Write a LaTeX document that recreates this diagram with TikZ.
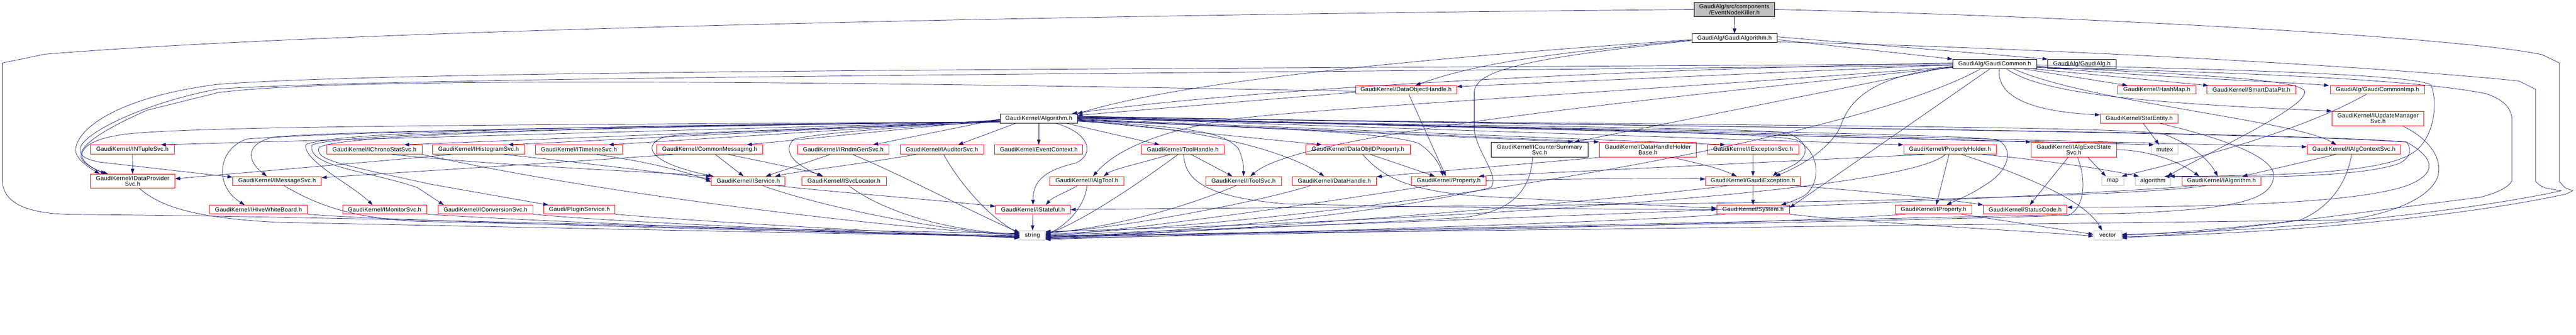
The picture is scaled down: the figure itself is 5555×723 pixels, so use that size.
\documentclass[tikz,border=0pt]{standalone}
\usepackage{fontspec}
\setmainfont[LetterSpace=2.5]{Liberation Sans}
\usetikzlibrary{arrows.meta}
\definecolor{edgec}{HTML}{191970}
\definecolor{gbord}{HTML}{BFBFBF}
\begin{document}
\begin{tikzpicture}[x=1pt,y=-1pt,
  base/.style={rectangle, inner sep=0pt, align=center, line width=0.9pt, font=\fontsize{12.6}{11.7}\selectfont},
  rbox/.style={base, draw=red},
  kbox/.style={base, draw=black},
  gbox/.style={base, draw=gbord},
  r1/.style={rbox, minimum height=19pt},
  lnk/.style={draw=edgec, line width=0.8pt, -{Triangle[length=11pt,width=7.5pt]}},
]
\useasboundingbox (0,0) rectangle (5555,723);
% ---------------- nodes ----------------
\node[kbox, fill=gbord, minimum width=174pt, minimum height=31pt] (enk) at (3740,20.5) {GaudiAlg/src/components\\/EventNodeKiller.h};
\node[kbox, minimum width=183pt, minimum height=19pt] (galgo) at (3740.5,82.5) {GaudiAlg/GaudiAlgorithm.h};
\node[kbox, minimum width=181pt, minimum height=20pt] (gcommon) at (4301.5,138) {GaudiAlg/GaudiCommon.h};
\node[kbox, minimum width=147pt, minimum height=20pt] (galg) at (4489.5,138) {GaudiAlg/GaudiAlg.h};
\node[rbox, minimum width=218pt, minimum height=18pt] (dohandle) at (3032,194) {GaudiKernel/DataObjectHandle.h};
\node[rbox, minimum width=168pt, minimum height=18pt] (hashmap) at (4651,194) {GaudiKernel/HashMap.h};
\node[rbox, minimum width=192pt, minimum height=18pt] (smartptr) at (4855,194) {GaudiKernel/SmartDataPtr.h};
\node[rbox, minimum width=204pt, minimum height=18pt] (gcimp) at (5127,194) {GaudiAlg/GaudiCommonImp.h};
\node[kbox, minimum width=166pt, minimum height=20pt] (algoh) at (2240,256) {GaudiKernel/Algorithm.h};
\node[rbox, minimum width=168pt, minimum height=20pt] (statentity) at (4613,256) {GaudiKernel/StatEntity.h};
\node[rbox, minimum width=198pt, minimum height=31pt] (iupdmgr) at (5128,255.5) {GaudiKernel/IUpdateManager\\Svc.h};
% row 5
\node[rbox, minimum width=181pt, minimum height=20pt] (intuple) at (285.5,323) {GaudiKernel/INTupleSvc.h};
\node[rbox, minimum width=205pt, minimum height=20pt] (ichrono) at (807.5,323) {GaudiKernel/IChronoStatSvc.h};
\node[rbox, minimum width=198pt, minimum height=20pt] (ihisto) at (1032,323) {GaudiKernel/IHistogramSvc.h};
\node[rbox, minimum width=187pt, minimum height=20pt] (itimeline) at (1248.5,323) {GaudiKernel/ITimelineSvc.h};
\node[rbox, minimum width=229pt, minimum height=20pt] (commsg) at (1530.5,323) {GaudiKernel/CommonMessaging.h};
\node[rbox, minimum width=197pt, minimum height=20pt] (irndm) at (1818.5,323) {GaudiKernel/IRndmGenSvc.h};
\node[rbox, minimum width=180pt, minimum height=20pt] (iauditor) at (2031,323) {GaudiKernel/IAuditorSvc.h};
\node[rbox, minimum width=190pt, minimum height=20pt] (evctx) at (2240,323) {GaudiKernel/EventContext.h};
\node[rbox, minimum width=179pt, minimum height=20pt] (toolhandle) at (2550.5,323) {GaudiKernel/ToolHandle.h};
\node[rbox, minimum width=225pt, minimum height=20pt] (doidprop) at (2928.5,323) {GaudiKernel/DataObjIDProperty.h};
\node[kbox, minimum width=208pt, minimum height=32pt] (icounter) at (3320,323) {GaudiKernel/ICounterSummary\\Svc.h};
\node[rbox, minimum width=209pt, minimum height=32pt] (dhhb) at (3553.5,323) {GaudiKernel/DataHandleHolder\\Base.h};
\node[rbox, minimum width=197pt, minimum height=20pt] (iexcept) at (3780.5,323) {GaudiKernel/IExceptionSvc.h};
\node[rbox, minimum width=200pt, minimum height=20pt] (propholder) at (4205,323) {GaudiKernel/PropertyHolder.h};
\node[rbox, minimum width=184pt, minimum height=32pt] (iexecstate) at (4472,323) {GaudiKernel/IAlgExecState\\Svc.h};
\node[gbox, minimum width=58pt, minimum height=20pt] (mutex) at (4668,323) {mutex};
\node[rbox, minimum width=202pt, minimum height=20pt] (ictx) at (5076,323) {GaudiKernel/IAlgContextSvc.h};
% row 6
\node[rbox, minimum width=182pt, minimum height=30pt] (idataprov) at (286,391) {GaudiKernel/IDataProvider\\Svc.h};
\node[r1, minimum width=191pt] (imsg) at (597.5,390.5) {GaudiKernel/IMessageSvc.h};
\node[r1, minimum width=159pt] (iservice) at (1613.5,390.5) {GaudiKernel/IService.h};
\node[r1, minimum width=182pt] (isvcloc) at (1820,390.5) {GaudiKernel/ISvcLocator.h};
\node[r1, minimum width=160pt] (ialgtool) at (2344,390.5) {GaudiKernel/IAlgTool.h};
\node[r1, minimum width=163pt] (itoolsvc) at (2681.5,390.5) {GaudiKernel/IToolSvc.h};
\node[r1, minimum width=181pt] (dhandle) at (2877.5,390.5) {GaudiKernel/DataHandle.h};
\node[r1, minimum width=162pt] (property) at (3124,390.5) {GaudiKernel/Property.h};
\node[r1, minimum width=204pt] (gexcept) at (3780,390.5) {GaudiKernel/GaudiException.h};
\node[gbox, minimum width=48pt, minimum height=19pt] (map) at (4556,390.5) {map};
\node[gbox, minimum width=77pt, minimum height=19pt] (algostd) at (4642.5,390.5) {algorithm};
\node[r1, minimum width=171pt] (ialgorithm) at (4790.5,390.5) {GaudiKernel/IAlgorithm.h};
% row 7
\node[r1, minimum width=211pt] (ihive) at (557.5,452.5) {GaudiKernel/IHiveWhiteBoard.h};
\node[r1, minimum width=181pt] (imonitor) at (829.5,452.5) {GaudiKernel/IMonitorSvc.h};
\node[r1, minimum width=204pt] (iconv) at (1047,452.5) {GaudiKernel/IConversionSvc.h};
\node[r1, minimum width=153pt] (plugin) at (1249.5,452.5) {Gaudi/PluginService.h};
\node[r1, minimum width=161pt] (istateful) at (2227.5,452.5) {GaudiKernel/IStateful.h};
\node[r1, minimum width=157pt] (system) at (3780.5,452.5) {GaudiKernel/System.h};
\node[r1, minimum width=165pt] (iproperty) at (4169.5,452.5) {GaudiKernel/IProperty.h};
\node[r1, minimum width=180pt] (statuscode) at (4367,452.5) {GaudiKernel/StatusCode.h};
% row 8
\node[gbox, minimum width=55pt, minimum height=20pt] (string) at (2226.5,508) {string};
\node[gbox, minimum width=60pt, minimum height=20pt] (vector) at (4545,508) {vector};

% ---------------- edges ----------------
% EventNodeKiller
\draw[lnk] (enk) -- (galgo);
\draw[lnk] (enk.west) .. controls (2500,30) and (800,60) .. (97,117) -- (5,136) -- (5,392) .. controls (8,430) and (40,462) .. (160,463) .. controls (800,468) and (1600,495) .. ([yshift=4pt]string.west);
\draw[lnk] (enk.east) .. controls (4500,35) and (5300,80) .. (5482,118) -- (5519,136) -- (5519,392) -- (5531,405) -- (5548,412) -- (5533,419) .. controls (5300,470) and (4900,505) .. ([yshift=-3pt]vector.east);
% GaudiAlgorithm
\draw[lnk] ([yshift=-3pt]galgo.east) -- (gcommon.north west);
\draw[lnk] ([yshift=3pt]galgo.east) -- (galg.north west);
\draw[lnk] ([yshift=-8pt]galgo.east) .. controls (4300,100) and (5100,140) .. (5432,175) -- (5468,193) -- (5468,392) -- (5478,401) -- (5490,406) -- (5523,412) .. controls (5300,460) and (4900,500) .. ([yshift=2pt]vector.east);
\draw[lnk] ([yshift=-3pt]galgo.west) .. controls (3300,110) and (2600,160) .. (algoh.north east);
\draw[lnk] ([yshift=-4pt]galgo.west) .. controls (3400,110) and (3200,130) .. ([xshift=20pt]dohandle.north);
\draw[lnk] ([yshift=-5pt]galgo.west) .. controls (3300,125) and (3180,150) .. (3179,200) -- (3179,280) .. controls (3185,330) and (3235,380) .. (3215,405) .. controls (3050,445) and (2700,495) .. ([yshift=-4pt]string.east);
% DataObjectHandle
\draw[lnk] ([yshift=-5pt]dohandle.west) -- ([yshift=7pt]algoh.east);
\draw[lnk] ([xshift=6pt]dohandle.south) -- ([xshift=-6pt]property.north);
\draw[lnk] ([yshift=-3pt]dohandle.west) .. controls (1500,170) and (700,170) .. (470,200) -- (317,238) .. controls (200,290) and (170,320) .. (175,340) .. controls (180,355) and (210,368) .. ([xshift=-58pt]idataprov.north);
% GaudiCommon
\draw[lnk] (gcommon.west) .. controls (2500,150) and (900,150) .. (470,182) .. controls (250,210) and (163,280) .. (163,325) .. controls (165,345) and (190,360) .. ([xshift=-71pt]idataprov.north);
\draw[lnk] ([yshift=-3pt]gcommon.west) .. controls (2500,160) and (900,165) .. (470,192) .. controls (300,225) and (178,290) .. (173,320) .. controls (172,335) and (180,343) .. (215,350) -- ([yshift=8pt]imsg.west);
\draw[lnk] ([yshift=2pt]gcommon.west) .. controls (3500,150) and (2700,190) .. ([xshift=-12pt]algoh.north east);
\draw[lnk] ([yshift=-2pt]gcommon.west) -- ([yshift=7pt]dohandle.east);
\draw[lnk] ([yshift=-5pt]gcommon.west) -- ([xshift=75pt]icounter.north);
\draw[lnk] ([yshift=-6pt]gcommon.west) .. controls (3500,200) and (2700,240) .. (2620,264) .. controls (2480,290) and (2400,330) .. ([xshift=13pt]ialgtool.north);
\draw[lnk] ([yshift=-7pt]gcommon.west) .. controls (3500,220) and (2800,290) .. ([xshift=15pt]itoolsvc.north);
\draw[lnk] ([yshift=-8pt]gcommon.west) .. controls (4050,160) and (3990,210) .. (3970,270) .. controls (3950,320) and (3880,360) .. ([xshift=48pt]gexcept.north);
\draw[lnk] ([xshift=-10pt]gcommon.south) -- ([yshift=4pt]system.east);
\draw[lnk] ([xshift=-30pt]gcommon.south) .. controls (4000,300) and (3000,470) .. ([yshift=2pt]string.east);
\draw[lnk] ([xshift=10pt]gcommon.south) .. controls (4305,200) and (4360,240) .. ([yshift=8pt]statentity.west);
\draw[lnk] ([xshift=60pt]gcommon.south) -- ([xshift=-63pt]hashmap.north);
\draw[lnk] ([xshift=80pt]gcommon.south) -- ([xshift=-93pt]smartptr.north);
\draw[lnk] ([xshift=25pt]gcommon.south) .. controls (4400,200) and (4600,222) .. (iupdmgr.north west);
\draw[lnk] ([xshift=40pt]gcommon.south) .. controls (4500,220) and (4950,260) .. ([xshift=-38pt]ictx.north);
\draw[lnk] ([yshift=-4pt]gcommon.east) .. controls (4500,160) and (4900,175) .. ([xshift=-2pt]gcimp.north west);
\draw[lnk] ([yshift=-6pt]gcommon.east) .. controls (4700,160) and (4960,170) .. (4970,197) .. controls (4975,230) and (4800,310) .. ([xshift=-8pt]algostd.north east);
\draw[lnk] ([yshift=-8pt]gcommon.east) .. controls (4800,155) and (5200,170) .. (5360,202) .. controls (5400,215) and (5417,235) .. (5417,260) -- (5417,390) .. controls (5410,405) and (5380,418) .. (5348,426) .. controls (5000,470) and (4800,500) .. ([yshift=-6pt]vector.east);
\draw[lnk] ([yshift=-2pt]gcommon.east) .. controls (4800,150) and (5200,160) .. (5242,183) .. controls (5258,220) and (5250,300) .. (5203,330) .. controls (5150,365) and (5000,380) .. ([xshift=-3pt]algostd.north east);
\draw[lnk] ([xshift=-24pt]gcimp.south) .. controls (4950,290) and (4700,350) .. ([xshift=-5pt]map.north east);
% Algorithm.h -> left row 5
\draw[lnk] ([yshift=-6pt]algoh.west) -- ([xshift=61pt]intuple.north);
\draw[lnk] ([yshift=-5pt]algoh.west) -- ([xshift=64pt]ichrono.north);
\draw[lnk] ([yshift=-4pt]algoh.west) -- ([xshift=64pt]ihisto.north);
\draw[lnk] ([yshift=-3pt]algoh.west) -- ([xshift=64pt]itimeline.north);
\draw[lnk] ([yshift=-2pt]algoh.west) -- ([xshift=80pt]commsg.north);
\draw[lnk] ([yshift=-1pt]algoh.west) -- ([xshift=64pt]irndm.north);
\draw[lnk] ([xshift=-50pt]algoh.south) -- ([xshift=35pt]iauditor.north);
\draw[lnk] (algoh.south) -- (evctx.north);
% Algorithm.h -> left loops
\draw[lnk] ([yshift=-7pt]algoh.west) .. controls (1200,270) and (350,270) .. (250,293) .. controls (180,305) and (170,330) .. (180,345) .. controls (190,360) and (215,370) .. ([xshift=-53pt]idataprov.north);
\draw[lnk] ([yshift=-7pt]algoh.west) .. controls (1200,275) and (700,285) .. (590,296) .. controls (530,310) and (530,345) .. ([xshift=-22pt]imsg.north);
\draw[lnk] ([yshift=-7pt]algoh.west) .. controls (1200,272) and (700,288) .. (533,300) .. controls (470,320) and (460,400) .. ([xshift=-30pt]ihive.north);
\draw[lnk] ([yshift=-7pt]algoh.west) .. controls (1200,272) and (720,285) .. (660,312) .. controls (650,345) and (760,400) .. ([xshift=-26pt]imonitor.north);
\draw[lnk] ([yshift=-7pt]algoh.west) .. controls (1200,275) and (730,290) .. (673,313) .. controls (660,360) and (800,370) .. (900,405) -- ([xshift=-90pt]iconv.north);
\draw[lnk] ([yshift=-7pt]algoh.west) .. controls (1200,275) and (740,292) .. (688,318) .. controls (680,345) and (720,352) .. (930,398) -- ([xshift=-67pt]plugin.north);
\draw[lnk] ([yshift=-7pt]algoh.west) .. controls (1900,275) and (1500,285) .. (1435,295) .. controls (1385,310) and (1390,350) .. ([xshift=-75pt]iservice.north);
\draw[lnk] ([yshift=-7pt]algoh.west) .. controls (2000,270) and (1780,285) .. (1713,300) .. controls (1695,315) and (1690,345) .. ([xshift=-47pt]isvcloc.north);
\draw[lnk] ([xshift=37pt]algoh.south) .. controls (2345,285) and (2365,330) .. (2320,352) .. controls (2240,370) and (2228,400) .. (istateful.north);
% Algorithm.h -> right
\draw[lnk] ([xshift=60pt]algoh.south) -- ([xshift=-50pt]toolhandle.north);
\draw[lnk] ([yshift=-6pt]algoh.east) .. controls (2600,275) and (2780,330) .. ([xshift=-22pt]dhandle.north);
\draw[lnk] ([yshift=-5pt]algoh.east) .. controls (2600,275) and (2640,290) .. (2670,320) .. controls (2680,340) and (2682,360) .. (itoolsvc.north);
\draw[lnk] ([yshift=-4pt]algoh.east) -- ([xshift=-78pt]doidprop.north);
\draw[lnk] ([yshift=-4pt]algoh.east) .. controls (2700,275) and (3000,285) .. (3060,310) .. controls (3090,330) and (3105,355) .. ([xshift=-12pt]property.north);
\draw[lnk] ([yshift=-3pt]algoh.east) -- ([xshift=73pt]icounter.north);
\draw[lnk] ([yshift=-2pt]algoh.east) -- (dhhb.north west);
\draw[lnk] ([yshift=-1pt]algoh.east) -- ([xshift=-60pt]iexcept.north);
\draw[lnk] (algoh.east) .. controls (3000,270) and (3780,275) .. (3853,287) .. controls (3905,305) and (3905,340) .. (3860,360) .. controls (3845,368) and (3830,374) .. ([xshift=43pt]gexcept.north);
\draw[lnk] ([yshift=1pt]algoh.east) .. controls (3000,272) and (3800,282) .. (3873,302) .. controls (3930,330) and (3925,400) .. (3890,423) .. controls (3870,433) and (3850,440) .. ([xshift=60pt]system.north);
\draw[lnk] ([yshift=2pt]algoh.east) -- (propholder.north west);
\draw[lnk] ([yshift=2pt]algoh.east) .. controls (3000,275) and (4250,285) .. (4310,303) .. controls (4345,325) and (4330,370) .. (4280,400) .. controls (4250,420) and (4220,432) .. ([xshift=28pt]iproperty.north);
\draw[lnk] ([yshift=3pt]algoh.east) -- (iexecstate.north west);
\draw[lnk] ([yshift=3pt]algoh.east) -- ([xshift=-23pt]mutex.north);
\draw[lnk] ([yshift=4pt]algoh.east) .. controls (3500,272) and (4600,270) .. (4667,290) .. controls (4720,310) and (4760,340) .. ([xshift=-8pt]ialgorithm.north);
\draw[lnk] ([yshift=4pt]algoh.east) -- ([yshift=6pt]ictx.west);
\draw[lnk] ([yshift=5pt]algoh.east) .. controls (3500,272) and (4900,285) .. (5190,307) .. controls (5205,330) and (5190,345) .. (5173,353) .. controls (5100,380) and (4900,385) .. ([xshift=-14pt]algostd.north east);
\draw[lnk] ([yshift=5pt]algoh.east) .. controls (3500,275) and (4800,280) .. (5188,306) .. controls (5250,340) and (5260,375) .. (5187,402) .. controls (5100,430) and (4900,447) .. ([yshift=5pt]statuscode.east);
% left region lower
\draw[lnk] (intuple) -- (idataprov);
\draw[lnk] ([xshift=-60pt]ihisto.south) .. controls (800,350) and (500,375) .. ([yshift=5pt]idataprov.east);
\draw[lnk] ([xshift=55pt]ihisto.south) .. controls (1200,345) and (1450,375) .. ([yshift=4pt]iservice.west);
\draw[lnk] ([xshift=38pt]ichrono.south) .. controls (1100,360) and (1400,370) .. (iservice.north west);
\draw[lnk] (ichrono.south east) .. controls (1300,420) and (1900,490) .. (string.west);
\draw[lnk] ([xshift=38pt]itimeline.south) .. controls (1400,350) and (1480,370) .. ([yshift=-2pt]iservice.west);
\draw[lnk] ([xshift=-80pt]commsg.south) .. controls (1300,345) and (900,370) .. ([yshift=7pt]imsg.east);
\draw[lnk] ([xshift=12pt]commsg.south) -- ([xshift=-10pt]iservice.north);
\draw[lnk] ([xshift=40pt]commsg.south) .. controls (1650,350) and (1750,370) .. ([xshift=-45pt]isvcloc.north);
\draw[lnk] ([xshift=-28pt]irndm.south) -- ([xshift=38pt]iservice.north);
\draw[lnk] ([xshift=20pt]irndm.south) .. controls (1950,380) and (2100,460) .. ([yshift=6pt]string.west);
\draw[lnk] ([xshift=-56pt]iauditor.south) .. controls (1850,355) and (1720,370) .. ([xshift=58pt]iservice.north);
\draw[lnk] ([xshift=4pt]iauditor.south) .. controls (2060,380) and (2120,460) .. ([yshift=3pt]string.west);
\draw[lnk] ([xshift=57pt]iservice.south) .. controls (1800,415) and (2000,430) .. ([yshift=7pt]istateful.west);
\draw[lnk] ([xshift=30pt]iservice.south) .. controls (1750,440) and (2000,495) .. (string.west);
\draw[lnk] ([xshift=10pt]isvcloc.south) .. controls (1880,440) and (2000,495) .. ([yshift=2pt]string.west);
\draw[lnk] ([xshift=14pt]idataprov.south) .. controls (340,440) and (400,470) .. (600,480) .. controls (1200,492) and (1800,505) .. ([yshift=-2pt]string.west);
\draw[lnk] ([xshift=14pt]imsg.south) .. controls (680,440) and (750,470) .. (900,478) .. controls (1400,488) and (1900,503) .. ([yshift=-1pt]string.west);
\draw[lnk] (ihive.south east) .. controls (800,475) and (1500,495) .. ([yshift=-3pt]string.west);
\draw[lnk] (imonitor.south east) .. controls (1100,475) and (1700,500) .. ([yshift=-4pt]string.west);
\draw[lnk] (iconv.south east) .. controls (1300,478) and (1800,500) .. ([yshift=-5pt]string.west);
\draw[lnk] (plugin.south east) .. controls (1500,478) and (1900,500) .. ([yshift=-6pt]string.west);
% middle
\draw[lnk] (istateful) -- (string);
\draw[lnk] ([xshift=-20pt]ialgtool.south) .. controls (2300,415) and (2270,425) .. ([xshift=28pt]istateful.north);
\draw[lnk] (ialgtool.south) .. controls (2340,440) and (2310,480) .. (string.east);
\draw[lnk] ([xshift=-28pt]toolhandle.south) .. controls (2470,350) and (2400,365) .. ([xshift=36pt]ialgtool.north);
\draw[lnk] ([xshift=18pt]toolhandle.south) -- ([xshift=-24pt]itoolsvc.north);
\draw[lnk] ([xshift=-10pt]toolhandle.south) .. controls (2450,400) and (2330,480) .. ([yshift=2pt]string.east);
\draw[lnk] ([xshift=2pt]toolhandle.south) .. controls (2555,390) and (2600,425) .. (2770,440) .. controls (3200,450) and (3500,452) .. (system.west);
\draw[lnk] ([xshift=-15pt]itoolsvc.south) .. controls (2550,450) and (2400,490) .. ([yshift=4pt]string.east);
\draw[lnk] ([xshift=-50pt]dhandle.south) .. controls (2700,440) and (2400,495) .. ([yshift=6pt]string.east);
\draw[lnk] ([xshift=27pt]doidprop.south) -- ([xshift=-30pt]property.north);
\draw[lnk] ([xshift=10pt]doidprop.south) .. controls (2980,380) and (3030,410) .. (3180,423) .. controls (3400,435) and (3600,445) .. ([yshift=3pt]system.west);
\draw[lnk] (property.east) .. controls (3400,385) and (3600,385) .. ([yshift=4pt]gexcept.west);
\draw[lnk] ([xshift=-40pt]property.south) .. controls (2900,430) and (2500,490) .. ([yshift=-2pt]string.east);
\draw[lnk] ([xshift=-15pt]icounter.south) .. controls (3300,420) and (3250,460) .. (3150,470) .. controls (2800,490) and (2500,500) .. ([yshift=-6pt]string.east);
\draw[lnk] ([xshift=-100pt]dhhb.south) -- ([yshift=9pt]dhandle.east);
\draw[lnk] ([xshift=50pt]dhhb.south) .. controls (3650,350) and (3700,360) .. ([xshift=-35pt]gexcept.north);
\draw[lnk] (iexcept) -- (gexcept);
\draw[lnk] (gexcept) -- (system);
\draw[lnk] ([xshift=-50pt]gexcept.south) .. controls (3500,430) and (2800,490) .. ([yshift=-8pt]string.east);
\draw[lnk] ([xshift=80pt]gexcept.south) .. controls (4000,410) and (4200,430) .. ([yshift=10pt]statuscode.west);
\draw[lnk] ([xshift=-60pt]system.south) .. controls (3500,480) and (2800,500) .. ([yshift=-9pt]string.east);
\draw[lnk] (system.south east) .. controls (4000,480) and (4400,500) .. ([yshift=-2pt]vector.west);
% right region
\draw[lnk] ([xshift=-55pt]propholder.south) -- ([xshift=65pt]property.north);
\draw[lnk] ([xshift=-2pt]propholder.south) -- ([xshift=6pt]iproperty.north);
\draw[lnk] ([xshift=70pt]propholder.south) .. controls (4450,350) and (4560,370) .. ([xshift=-30pt]algostd.north);
\draw[lnk] ([xshift=25pt]propholder.south) .. controls (4400,390) and (4500,440) .. ([xshift=-12pt]vector.north);
\draw[lnk] ([xshift=-10pt]propholder.south) .. controls (4100,420) and (3000,480) .. ([yshift=8pt]string.east);
\draw[lnk] ([xshift=60pt]iproperty.south) -- ([yshift=2pt]vector.west);
\draw[lnk] ([xshift=-60pt]iproperty.south) .. controls (3800,485) and (3000,500) .. ([yshift=-7pt]string.east);
\draw[lnk] ([xshift=-12pt]iexecstate.south) -- ([xshift=10pt]statuscode.north);
\draw[lnk] ([xshift=30pt]iexecstate.south) -- ([xshift=-15pt]map.north);
\draw[lnk] ([xshift=8pt]iexecstate.south) .. controls (4500,390) and (4495,450) .. (4460,465) .. controls (4000,480) and (3000,495) .. ([yshift=-5pt]string.east);
\draw[lnk] (iexecstate.east) .. controls (4640,325) and (4700,350) .. ([xshift=-48pt]ialgorithm.north);
\draw[lnk] ([xshift=9pt]statentity.south) -- ([xshift=-12pt]mutex.north);
\draw[lnk] ([xshift=45pt]statentity.south) .. controls (4800,300) and (4905,340) .. (4903,380) .. controls (4900,430) and (4830,450) .. (4600,460) .. controls (3800,478) and (2800,500) .. ([yshift=-3pt]string.east);
\draw[lnk] ([xshift=-39pt]ictx.south) -- ([xshift=45pt]ialgorithm.north);
\draw[lnk] ([xshift=-5pt]ictx.south) .. controls (5060,400) and (5020,450) .. (4960,475) .. controls (4800,495) and (4650,505) .. (vector.east);
\draw[lnk] ([xshift=-30pt]ialgorithm.south) .. controls (4500,440) and (3000,445) .. (istateful.east);
\draw[lnk] ([xshift=-50pt]ialgorithm.south) .. controls (4400,430) and (3000,480) .. ([yshift=0pt]string.east);
\draw[lnk] ([xshift=52pt]iupdmgr.south) .. controls (5240,300) and (5262,340) .. (5259,370) .. controls (5255,420) and (5170,460) .. (5060,475) .. controls (4000,488) and (3000,500) .. ([yshift=-1pt]string.east);
\end{tikzpicture}
\end{document}
